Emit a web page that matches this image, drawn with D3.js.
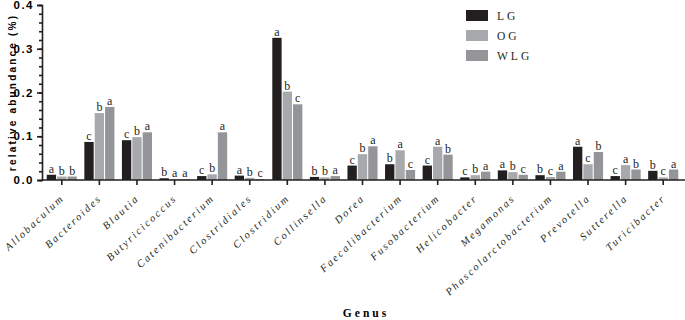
<!DOCTYPE html>
<html>
<head>
<meta charset="utf-8">
<script src="https://cdn.jsdelivr.net/npm/d3@7"></script>
<style>
  body { margin: 0; background: #fff; }
  svg { display: block; }
</style>
</head>
<body>
<div id="chart"></div>
<script>
// genera on the x axis
const genera = ["Allobaculum", "Bacteroides", "Blautia", "Butyricicoccus", "Catenibacterium",
    "Clostridiales", "Clostridium", "Collinsella", "Dorea", "Faecalibacterium", "Fusobacterium",
    "Helicobacter", "Megamonas", "Phascolarctobacterium", "Prevotella", "Sutterella", "Turicibacter"];

const groups = ["LG", "OG", "WLG"];

// relative abundance per group
const lgValues  = [0.012, 0.087, 0.091, 0.004, 0.009, 0.010, 0.325, 0.007, 0.033, 0.036, 0.033, 0.006, 0.022, 0.011, 0.076, 0.009, 0.021];
const ogValues  = [0.008, 0.153, 0.098, 0.002, 0.013, 0.005, 0.202, 0.006, 0.059, 0.068, 0.076, 0.011, 0.018, 0.007, 0.036, 0.034, 0.006];
const wlgValues = [0.008, 0.167, 0.109, 0.002, 0.109, 0.002, 0.173, 0.009, 0.077, 0.023, 0.058, 0.019, 0.012, 0.019, 0.064, 0.024, 0.024];

// significance letters per group
const lgLetters  = ["a", "c", "c", "b", "c", "a", "a", "b", "c", "b", "c", "c", "a", "b", "a", "c", "b"];
const ogLetters  = ["b", "b", "b", "a", "b", "b", "b", "b", "b", "a", "a", "b", "b", "c", "c", "a", "c"];
const wlgLetters = ["b", "a", "a", "a", "a", "c", "c", "a", "a", "c", "b", "a", "c", "a", "b", "b", "a"];

const yTicks = [0.0, 0.1, 0.2, 0.3, 0.4];

const colors = { LG: "#231f20", OG: "#a7a9ac", WLG: "#939598" };

const serif = "'Liberation Serif', 'DejaVu Serif', 'Times New Roman', serif";
const sans = "'Liberation Sans', Arial, 'DejaVu Sans', sans-serif";

const width = 685, height = 320;
const margin = { left: 42, right: 3, top: 5, bottom: 140 };

const svg = d3.select("#chart").append("svg")
    .attr("width", width)
    .attr("height", height);

const x = d3.scaleBand()
    .domain(genera)
    .range([43, 682])
    .paddingInner(0.2)
    .paddingOuter(0.1);

const y = d3.scaleLinear()
    .domain([0, 0.4])
    .range([height - margin.bottom, margin.top]);

const xSub = d3.scaleBand()
    .domain(groups)
    .range([0, x.bandwidth()])
    .paddingInner(0.1);

const series = {
    LG: { values: lgValues, letters: lgLetters },
    OG: { values: ogValues, letters: ogLetters },
    WLG: { values: wlgValues, letters: wlgLetters }
};

const rows = [];
genera.forEach(function(g, i) {
    groups.forEach(function(k) {
        rows.push({ genus: g, group: k, value: series[k].values[i], letter: series[k].letters[i] });
    });
});

// bars
svg.append("g")
    .selectAll("rect")
    .data(rows)
    .enter().append("rect")
    .attr("x", function(d) { return x(d.genus) + xSub(d.group); })
    .attr("y", function(d) { return y(d.value); })
    .attr("width", xSub.bandwidth())
    .attr("height", function(d) { return y(0) - y(d.value); })
    .attr("fill", function(d) { return colors[d.group]; });

// letters
svg.append("g")
    .selectAll("text")
    .data(rows)
    .enter().append("text")
    .attr("x", function(d) { return x(d.genus) + xSub(d.group) + xSub.bandwidth() / 2; })
    .attr("y", function(d) { return y(d.value) - 2; })
    .attr("text-anchor", "middle")
    .style("font-family", serif)
    .style("font-size", "12px")
    .style("fill", "#231f20")
    .text(function(d) { return d.letter; });

// y axis
const yAxis = svg.append("g")
    .attr("transform", "translate(" + margin.left + ",0)");
yAxis.append("g")
    .call(d3.axisLeft(y).tickValues(d3.range(0, 0.401, 0.02)).tickSize(3).tickFormat(""))
    .call(function(g) { g.select(".domain").remove(); });
yAxis.append("g")
    .call(d3.axisLeft(y).tickValues(yTicks).tickSize(5).tickFormat(d3.format(".1f")))
    .call(function(g) {
        g.selectAll("text")
            .style("font-family", sans)
            .style("font-weight", "bold")
            .style("font-size", "11.5px")
            .style("letter-spacing", "1.5px")
            .attr("x", -8);
    });
yAxis.selectAll("line, path").attr("stroke", "#231f20").attr("stroke-width", 1.6);

// x axis
const xAxis = svg.append("g")
    .attr("transform", "translate(0," + y(0) + ")")
    .call(d3.axisBottom(x).tickSize(5).tickSizeOuter(0));
xAxis.select(".domain").attr("d", "M" + margin.left + ",0H" + width);
xAxis.selectAll("line, path").attr("stroke", "#231f20").attr("stroke-width", 1.6);
xAxis.selectAll("text")
    .attr("text-anchor", "end")
    .attr("x", 0)
    .attr("y", 0)
    .attr("dy", 0)
    .attr("transform", "translate(3,19) rotate(-43)")
    .style("font-family", serif)
    .style("font-style", "italic")
    .style("font-size", "10.5px")
    .style("letter-spacing", "2.1px")
    .style("fill", "#231f20");

// axis titles
svg.append("text")
    .attr("transform", "translate(16," + ((y(0) + y(0.4)) / 2) + ") rotate(-90)")
    .attr("text-anchor", "middle")
    .style("font-family", sans)
    .style("font-weight", "bold")
    .style("font-size", "10px")
    .style("letter-spacing", "2.2px")
    .text("relative abundance (%)");

svg.append("text")
    .attr("x", 366)
    .attr("y", 317)
    .attr("text-anchor", "middle")
    .style("font-family", serif)
    .style("font-weight", "bold")
    .style("font-size", "11.5px")
    .style("letter-spacing", "3px")
    .text("Genus");

// legend
const legend = svg.append("g")
    .selectAll("g")
    .data(groups)
    .enter().append("g")
    .attr("transform", function(d, i) { return "translate(466," + (10 + i * 20) + ")"; });
legend.append("rect")
    .attr("width", 22)
    .attr("height", 11)
    .attr("fill", function(d) { return colors[d]; });
legend.append("text")
    .attr("x", 31)
    .attr("y", 10)
    .style("font-family", serif)
    .style("font-size", "11.5px")
    .style("letter-spacing", "3px")
    .style("fill", "#231f20")
    .text(function(d) { return d; });
</script>
</body>
</html>
